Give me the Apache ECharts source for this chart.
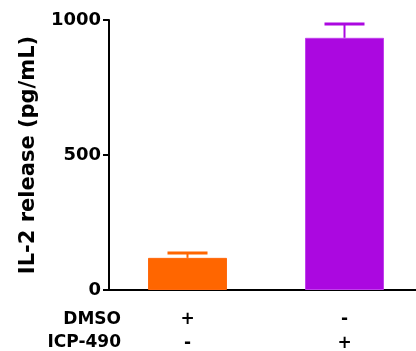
<!DOCTYPE html>
<html>
<head>
<meta charset="utf-8">
<title>IL-2 release</title>
<script src="https://cdn.jsdelivr.net/npm/echarts@6/dist/echarts.min.js"></script>
</head>
<body style="margin:0">
<div id="container" style="width:416px;height:351px"></div>
<script>
var groups = ['DMSO', 'ICP-490'];
var rowLabels = ['DMSO', 'ICP-490'];
var dmsoSigns = ['+', '-'];
var icpSigns = ['-', '+'];
var means = [119, 934];
var errTops = [137, 985];
var barColors = ['#ff6600', '#ab08e0'];
var yTicks = [0, 500, 1000];

var font = '"DejaVu Sans", sans-serif';
var chart = echarts.init(document.getElementById('container'), null, { renderer: 'canvas' });

var option = {
    animation: false,
    grid: { left: 109, top: 20, width: 314, height: 270, outerBoundsMode: 'none', containLabel: false },
    xAxis: {
        type: 'category',
        data: groups,
        axisLine: { lineStyle: { color: '#000', width: 2 } },
        axisTick: { alignWithLabel: true, length: 6, lineStyle: { color: '#000', width: 2 } },
        axisLabel: {
            interval: 0,
            margin: 18,
            formatter: function (v, i) { return dmsoSigns[i] + '\n' + icpSigns[i]; },
            color: '#000', fontFamily: font, fontWeight: 'bold', fontSize: 17, lineHeight: 24
        }
    },
    yAxis: {
        type: 'value',
        min: 0, max: 1000, interval: 500,
        name: 'IL-2 release (pg/mL)',
        nameLocation: 'middle',
        nameGap: 70,
        nameTextStyle: { color: '#000', fontFamily: font, fontWeight: 'bold', fontSize: 21 },
        axisLine: { show: true, lineStyle: { color: '#000', width: 2 } },
        axisTick: { show: true, length: 6, lineStyle: { color: '#000', width: 2 } },
        splitLine: { show: false },
        axisLabel: {
            margin: 8,
            color: '#000', fontFamily: font, fontWeight: 'bold', fontSize: 18,
            formatter: function (v) { return yTicks.indexOf(v) >= 0 ? String(v) : ''; }
        }
    },
    series: [
        {
            type: 'bar',
            barWidth: 79,
            data: means.map(function (v, i) {
                return { value: v, itemStyle: { color: barColors[i], borderColor: i ? '#c040ec' : '#ff6a10', borderWidth: 1 } };
            }),
            z: 2
        },
        {
            type: 'custom',
            z: 3,
            data: means.map(function (v, i) { return [i, v, errTops[i]]; }),
            renderItem: function (params, api) {
                var i = api.value(0);
                var base = api.coord([i, api.value(1)]);
                var top = api.coord([i, api.value(2)]);
                var c = barColors[i];
                return {
                    type: 'group',
                    children: [
                        { type: 'line', shape: { x1: base[0], y1: base[1], x2: top[0], y2: top[1] }, style: { stroke: c, lineWidth: 2 } },
                        { type: 'line', shape: { x1: top[0] - 20, y1: top[1], x2: top[0] + 20, y2: top[1] }, style: { stroke: c, lineWidth: 3 } }
                    ]
                };
            }
        }
    ],
    graphic: rowLabels.map(function (t, i) {
        return {
            type: 'text', right: 416 - 121, top: 311 + i * 23,
            style: { text: t, fill: '#000', font: 'bold 17px ' + font, textAlign: 'right' }
        };
    })
};

chart.setOption(option);
</script>
</body>
</html>
